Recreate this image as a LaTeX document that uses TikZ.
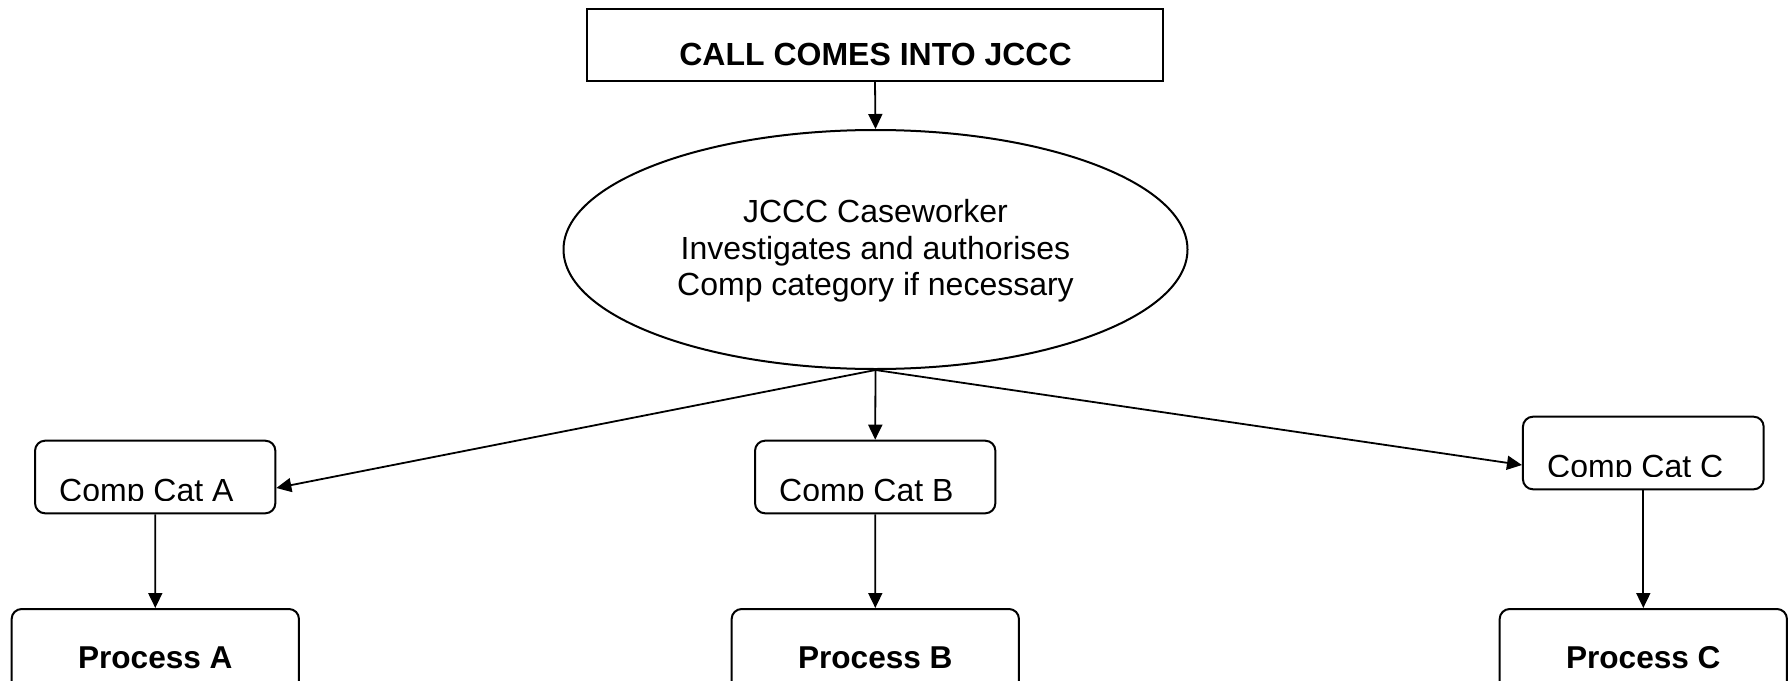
\documentclass[tikz,border=0pt]{standalone}
\usepackage{fontspec}
\setmainfont{Liberation Sans}
\usetikzlibrary{arrows.meta,shapes.geometric}
\tikzset{
  conn/.style={line width=1.8pt, -{Triangle[length=15pt,width=14pt]}},
  sqbox/.style={draw, line width=2pt, rectangle, inner sep=0pt},
  rbox/.style={draw, line width=2pt, rectangle, rounded corners=10pt, inner sep=0pt},
  oval/.style={draw, line width=2pt, ellipse, inner sep=0pt, minimum width=624pt, minimum height=239pt},
  txt/.style={inner sep=0pt, font=\fontsize{32}{36.6}\selectfont},
  btxt/.style={inner sep=0pt, font=\fontsize{31.6}{36}\selectfont\bfseries},
}
\begin{document}
\begin{tikzpicture}[x=1pt,y=-1pt]
\clip (0,0) rectangle (1788,680);
\fill[white] (0,0) rectangle (1788,680);
% top box
\node[sqbox, minimum width=576.6pt, minimum height=72.3pt] (call) at (875,44.85) {};
\node[btxt, font=\fontsize{32}{36}\selectfont\bfseries, anchor=base] (calltxt) at (875.5,65) {CALL COMES INTO JCCC};
% ellipse
\node[oval] (cw) at (875.5,249.5) {};
\node[txt, align=center] (cwtxt) at (875.5,251) {JCCC Caseworker\\Investigates and authorises\\Comp category if necessary};
% comp cat boxes
\node[rbox, minimum width=240.3pt, minimum height=72.6pt] (ca) at (155.2,477) {};
\node[rbox, minimum width=240.3pt, minimum height=72.6pt] (cb) at (875.2,477) {};
\node[rbox, minimum width=240.7pt, minimum height=72.6pt] (cc) at (1643.3,453) {};
\begin{scope}
  \clip (36,442) rectangle (1763,500.2);
  \node[txt, anchor=base west] (catxt) at (59,501) {Comp Cat A};
  \node[txt, anchor=base west] (cbtxt) at (779,501) {Comp Cat B};
\end{scope}
\begin{scope}
  \clip (1524,418) rectangle (1763,476.2);
  \node[txt, anchor=base west] (cctxt) at (1547,477) {Comp Cat C};
\end{scope}
% process boxes
\node[rbox, minimum width=287.3pt, minimum height=111pt] (pa) at (155.3,664.5) {};
\node[rbox, minimum width=287.3pt, minimum height=111pt] (pb) at (875.3,664.5) {};
\node[rbox, minimum width=287.3pt, minimum height=111pt] (pc) at (1643.3,664.5) {};
\node[btxt, anchor=base] (patxt) at (155.3,668) {Process A};
\node[btxt, anchor=base] (pbtxt) at (875.3,668) {Process B};
\node[btxt, anchor=base] (pctxt) at (1643.3,668) {Process C};
% connectors
\draw[conn] (call.south) -- (cw.north);
\draw[conn] (cw.south) -- ([yshift=-11pt]ca.east);
\draw[conn] (cw.south) -- (cb.north);
\draw[conn] (cw.south) -- ([yshift=-12pt]cc.west);
\draw[conn] (ca.south) -- (pa.north);
\draw[conn] (cb.south) -- (pb.north);
\draw[conn] (cc.south) -- (pc.north);
\end{tikzpicture}
\end{document}
